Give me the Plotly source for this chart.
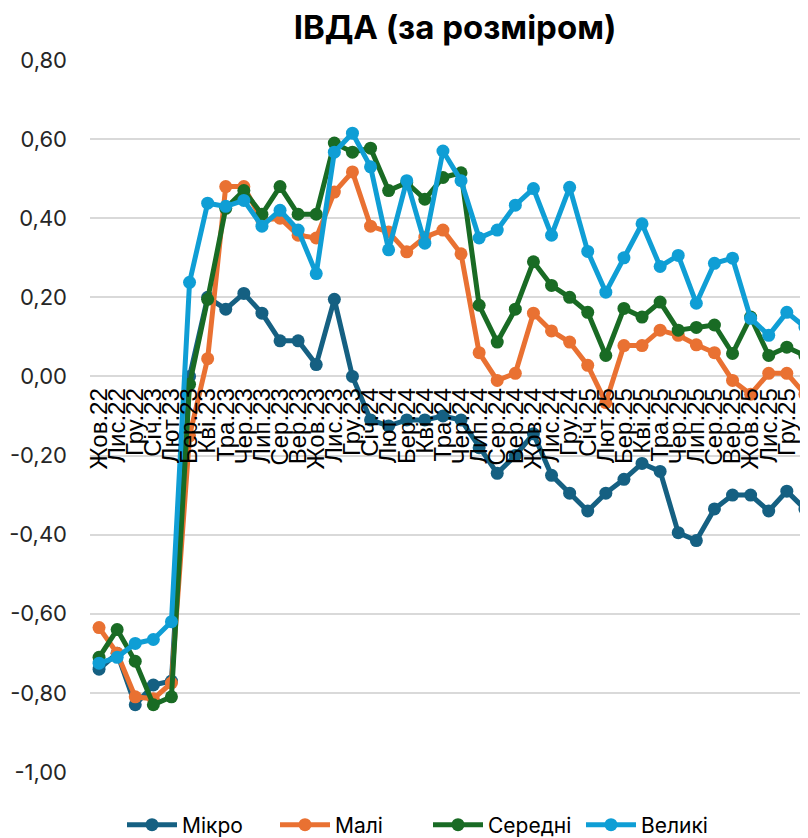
import plotly.graph_objects as go

months = ["Жов.22","Лис.22","Гру.22","Січ.23","Лют.23","Бер.23","Кві.23","Тра.23","Чер.23","Лип.23",
          "Сер.23","Вер.23","Жов.23","Лис.23","Гру.23","Січ.24","Лют.24","Бер.24","Кві.24","Тра.24",
          "Чер.24","Лип.24","Сер.24","Вер.24","Жов.24","Лис.24","Гру.24","Січ.25","Лют.25","Бер.25",
          "Кві.25","Тра.25","Чер.25","Лип.25","Сер.25","Вер.25","Жов.25","Лис.25","Гру.25","Січ.26"]

mikro = [-0.74,-0.70,-0.83,-0.78,-0.77,0.00,0.20,0.17,0.21,0.16,
         0.09,0.09,0.03,0.195,0.00,-0.11,-0.125,-0.11,-0.11,-0.10,
         -0.11,-0.18,-0.245,-0.20,-0.145,-0.25,-0.295,-0.34,-0.295,-0.26,
         -0.22,-0.24,-0.395,-0.415,-0.335,-0.30,-0.30,-0.34,-0.29,-0.335]
mali = [-0.635,-0.70,-0.81,-0.815,-0.775,-0.15,0.045,0.48,0.48,0.395,
        0.40,0.357,0.35,0.466,0.517,0.38,0.365,0.315,0.352,0.37,
        0.31,0.06,-0.01,0.008,0.16,0.115,0.087,0.028,-0.066,0.078,
        0.078,0.117,0.104,0.08,0.06,-0.01,-0.045,0.008,0.008,-0.045]
seredni = [-0.71,-0.64,-0.72,-0.83,-0.81,-0.02,0.195,0.425,0.47,0.41,
           0.48,0.41,0.41,0.59,0.567,0.577,0.47,0.49,0.448,0.503,
           0.515,0.18,0.087,0.17,0.29,0.23,0.20,0.162,0.053,0.172,
           0.15,0.188,0.117,0.124,0.13,0.058,0.15,0.053,0.074,0.053]
velyki = [-0.725,-0.71,-0.675,-0.665,-0.62,0.238,0.438,0.43,0.445,0.38,
          0.42,0.37,0.26,0.567,0.615,0.53,0.32,0.495,0.337,0.57,
          0.495,0.35,0.37,0.433,0.475,0.357,0.478,0.316,0.213,0.30,
          0.386,0.278,0.306,0.185,0.286,0.299,0.147,0.104,0.162,0.125]

series_names = ["Мікро", "Малі", "Середні", "Великі"]
series_values = [mikro, mali, seredni, velyki]
colors = ["#156082", "#E97132", "#196B24", "#0F9ED5"]

y_tickvals = [0.8, 0.6, 0.4, 0.2, 0.0, -0.2, -0.4, -0.6, -0.8, -1.0]
y_ticktext = ["0,80", "0,60", "0,40", "0,20", "0,00", "-0,20", "-0,40", "-0,60", "-0,80", "-1,00"]

# The page body has an 8px margin, so the figure is 800x830 and shifted by 8px.
W, H = 800, 830
ML, MT, MB = 82, 52, 66
PH = H - MT - MB
PW = W - ML

fig = go.Figure()
idx = list(range(len(months)))
for name, vals, col in zip(series_names, series_values, colors):
    fig.add_trace(go.Scatter(
        x=idx, y=vals, name=name, mode="lines+markers",
        line=dict(color=col, width=5),
        marker=dict(color=col, size=13),
    ))

fig.update_layout(
    width=W, height=H,
    margin=dict(l=ML, r=0, t=MT, b=MB, autoexpand=False),
    plot_bgcolor="white", paper_bgcolor="white",
    title=dict(text="<b>ІВДА (за розміром)</b>", x=447/W, xanchor="center",
               y=1-19/H, yanchor="middle",
               font=dict(family="Inter, Roboto, sans-serif", size=33, color="#000000")),
    legend=dict(orientation="h", x=(114-ML)/PW, xanchor="left", y=-53/PH, yanchor="middle",
                font=dict(family="Inter, Roboto, sans-serif", size=21, color="#000000"),
                itemwidth=50, entrywidth=88, entrywidthmode="pixels", traceorder="normal"),
    showlegend=True,
)

fig.update_yaxes(
    range=[-1.0, 0.8], tickvals=y_tickvals, ticktext=y_ticktext,
    showgrid=True, gridcolor="#D9D9D9", gridwidth=1.5, zeroline=False, showline=False,
    ticklabelstandoff=22, automargin=False,
    tickfont=dict(family="Inter, Roboto, sans-serif", size=22, color="#262626"),
)

fig.update_xaxes(
    range=[-0.5, 39.17], tickvals=idx, ticktext=months, tickangle=-90,
    anchor="free", position=1.0/1.8,
    showgrid=False, zeroline=False, showline=False, ticks="",
    ticklabelstandoff=6, automargin=False,
    tickfont=dict(family="Liberation Sans, Arial, sans-serif", size=24, color="#000000"),
)

fig.write_html("out.html")
